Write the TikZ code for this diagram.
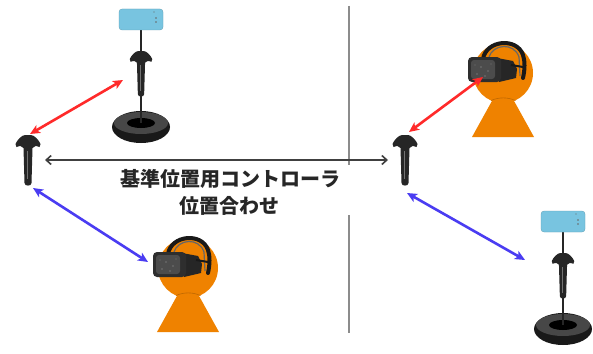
\documentclass[tikz,border=0pt]{standalone}
\usepackage{fontspec}
\newfontfamily\jpfont{Noto Sans CJK JP}
\usetikzlibrary{arrows.meta}

\definecolor{ctrlc}{HTML}{262626}
\definecolor{headc}{HTML}{EF8200}
\definecolor{phonec}{HTML}{78C4E0}
\definecolor{redc}{HTML}{FF2A2A}
\definecolor{bluec}{HTML}{4A3CF2}

\tikzset{
  link/.style={line width=2.6pt, {Stealth[length=10pt,width=9pt,inset=2.5pt]}-{Stealth[length=10pt,width=9pt,inset=2.5pt]}},
  redlink/.style={link, draw=redc},
  bluelink/.style={link, draw=bluec},
  align link/.style={line width=1.3pt, draw=black!75, {Straight Barb[length=5pt,width=9pt,line width=1.6pt]}-{Straight Barb[length=5pt,width=9pt,line width=1.6pt]}},
  divider/.style={line width=1.4pt, draw=black!45},
  caption/.style={font=\jpfont\bfseries\fontsize{20}{24}\selectfont, text=black!85, inner sep=0pt},
  % hand controller, top of the ring at the origin
  ctrl/.pic={
    \fill[ctrlc] (-3,0) .. controls (-6,0) and (-11,5) .. (-12.5,9)
      -- (-11.5,12) .. controls (-8,10.5) and (-6,11) .. (-4.5,13)
      -- (-3.5,48) .. controls (-3.5,51.5) and (3.5,51.5) .. (3.5,48)
      -- (4.5,13) .. controls (6,11) and (8,10.5) .. (11.5,12)
      -- (12.5,9) .. controls (11,5) and (6,0) .. (3,0) -- cycle;
    \draw[black!55, line width=0.8pt] (-1,16) -- (-1,44);
  },
  % tracker stand: phone on top, pole, controller, round base
  stand/.pic={
    \fill[black!90] (0,107) ellipse [x radius=29, y radius=16];
    \fill[black!72] (0,103) ellipse [x radius=27, y radius=11];
    \fill[black] (0,103) ellipse [x radius=14, y radius=5];
    \draw[black!85, line width=1.6pt] (0,10) -- (0,103);
    \pic[scale=0.9] at (0,31) {ctrl};
    \fill[phonec, draw=phonec!80!black, line width=0.3pt, rounded corners=3pt] (-22,-11) rectangle (22,10);
    \fill[black!60] (15,-2) circle (0.9) (15,2) circle (0.9);
    \fill[black!60] (13,-8) circle (0.6);
  },
  % head with the headset on, centred on the head
  person/.pic={
    \fill[headc] (0,8) -- (-31,64) -- (31,64) -- cycle;
    \fill[headc] (0,0) circle (30);
    \draw[headc!80!black, line width=0.6pt] (-12,27.5) arc (246:294:30);
    % straps
    \draw[black!90, line width=4pt, line cap=round] (-20,-14) .. controls (-17,-33) and (14,-36) .. (20,-18) .. controls (22,-12) and (22,-4) .. (20,5);
    \draw[black!60, line width=1.2pt] (-14,-16) .. controls (-10,-29) and (11,-31) .. (16,-16) -- (17,3);
    % side block of the headset
    \fill[black!85] (-6,-15) -- (10,-12) -- (14,-4) -- (13,5) -- (-4,9) -- cycle;
    \draw[black!90, line width=2pt] (8,-8) -- (20,-6);
    % front box
    \fill[black!82, rounded corners=4pt] (-35,-16) rectangle (-2,9);
    \fill[black!70, rounded corners=3pt] (-32,-13) rectangle (-8,6);
    \fill[black!55] (-22,-6) circle (0.8) (-15,-2) circle (0.8) (-26,1) circle (0.8) (-18,3) circle (0.8) (-28,-8) circle (0.7) (-12,-9) circle (0.7);
  }
}

\begin{document}
\begin{tikzpicture}[x=1pt, y=-1pt]
  \useasboundingbox[fill=white] (0,0) rectangle (593,353);

  % divider between the two set-ups
  \coordinate (d1) at (349,6);
  \coordinate (d2) at (349,165);
  \coordinate (d3) at (349,215);
  \coordinate (d4) at (349,333);
  \draw[divider] (d1) -- (d2);
  \draw[divider] (d3) -- (d4);

  % left set-up
  \pic at (28,135) {ctrl};
  \pic at (141,20) {stand};
  \pic at (188,268) {person};

  % right set-up
  \pic at (405,135) {ctrl};
  \pic at (563,222) {stand};
  \pic at (503,73) {person};

  % link end points
  \coordinate (lcTop) at (30,134);
  \coordinate (lcBot) at (33,188);
  \coordinate (lcSide) at (45,160);
  \coordinate (lStand) at (123,80);
  \coordinate (lHead) at (148,262);
  \coordinate (rcTop) at (409,132);
  \coordinate (rcBot) at (407,193);
  \coordinate (rcSide) at (388,160);
  \coordinate (rHead) at (483,77);
  \coordinate (rStand) at (525,260);

  \draw[redlink] (lcTop) -- (lStand);
  \draw[bluelink] (lcBot) -- (lHead);
  \draw[redlink] (rcTop) -- (rHead);
  \draw[bluelink] (rcBot) -- (rStand);
  \draw[align link] (lcSide) -- (rcSide);

  \node[caption] (cap1) at (230,179) {基準位置用コントローラ};
  \node[caption] (cap2) at (229,206) {位置合わせ};
\end{tikzpicture}
\end{document}
